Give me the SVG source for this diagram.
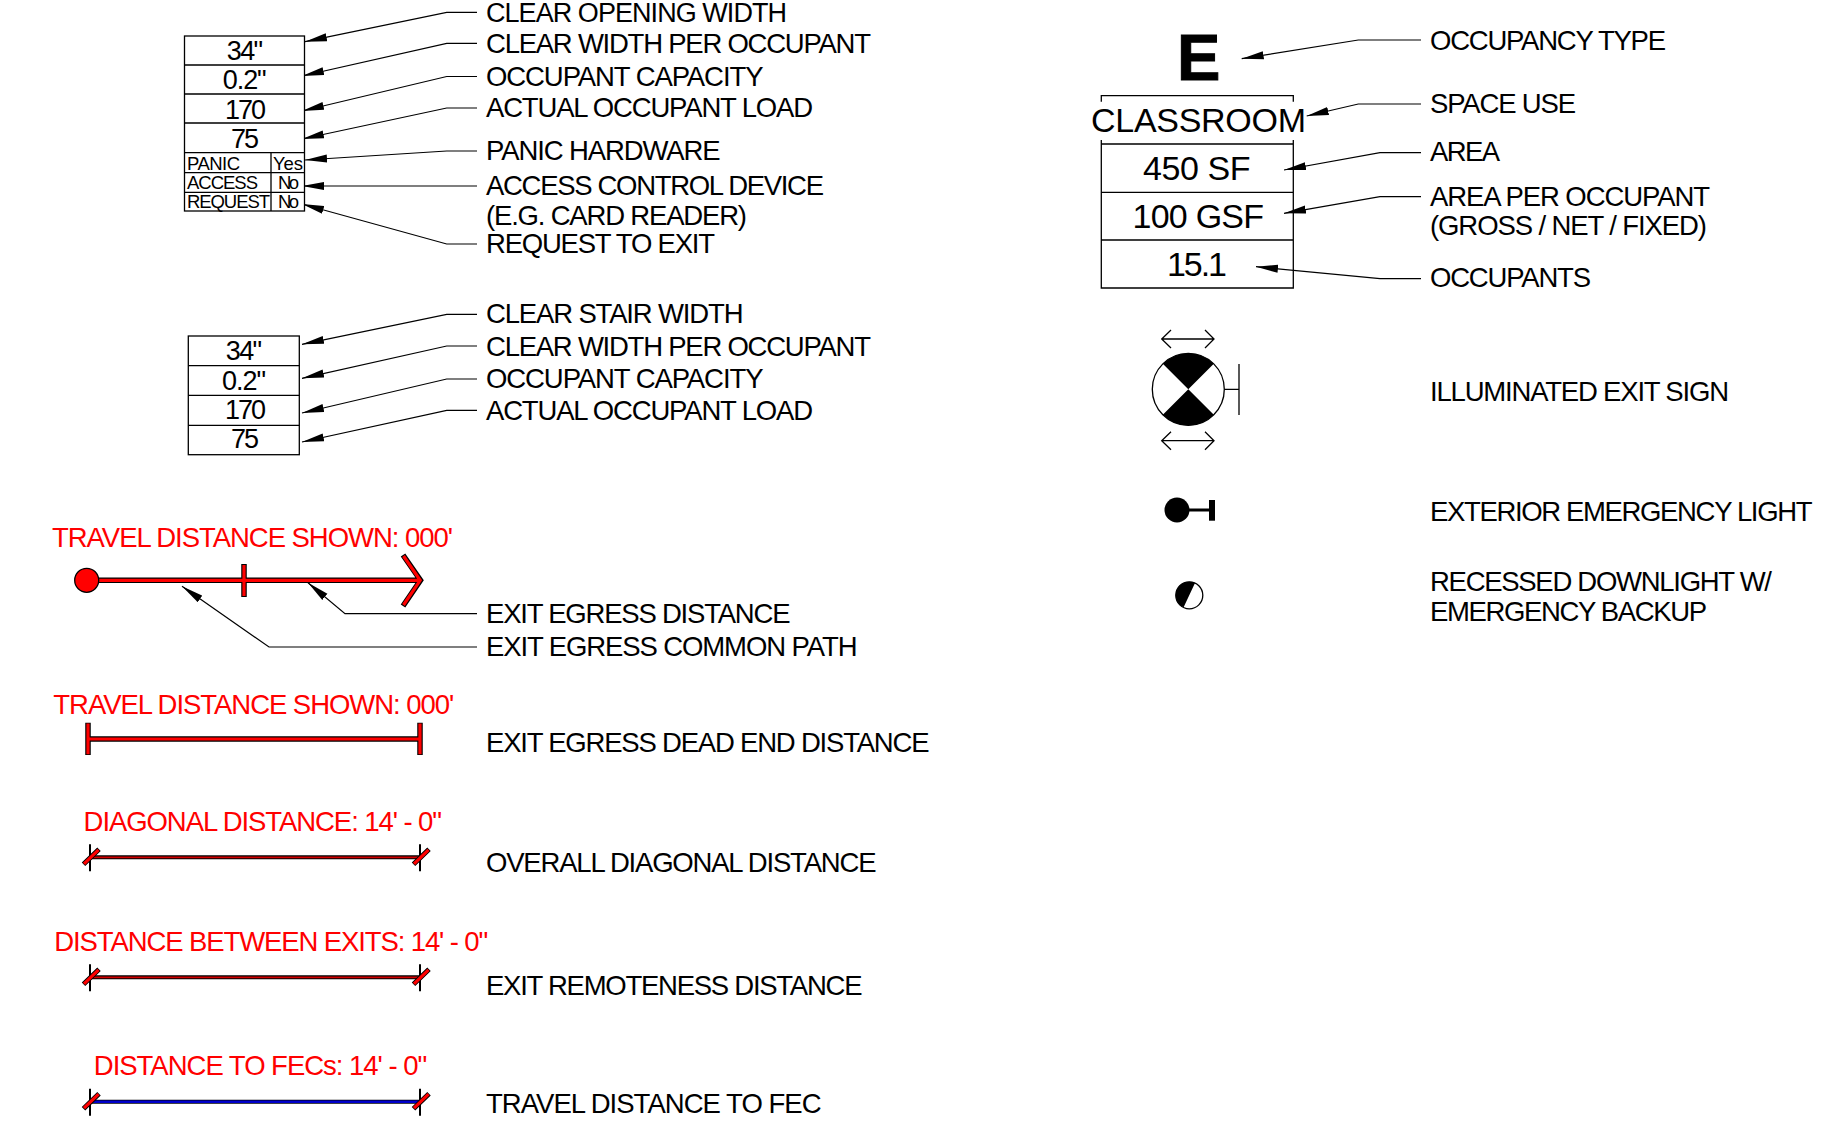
<svg xmlns="http://www.w3.org/2000/svg" width="1830" height="1134" viewBox="0 0 1830 1134">
<style>
text{font-family:"Liberation Sans",Arial,sans-serif;fill:#000}
.l{font-size:27.5px}
.r{font-size:27.5px;fill:#f00}
.v{font-size:27px}
.s{font-size:18.5px}
.b{font-size:34px}
.box{fill:#fff;stroke:#000;stroke-width:1.3}
.ln{fill:none;stroke:#000;stroke-width:1.3}
.ld{fill:none;stroke:#000;stroke-width:1.2;marker-end:url(#ah)}
.ok{fill:none;stroke:#000;stroke-width:5.5}
.rd{fill:none;stroke:#f00;stroke-width:3.2}
.bl{fill:none;stroke:#00c;stroke-width:2.4}
.thin{fill:none;stroke:#000;stroke-width:4}
.thr{fill:none;stroke:#d00000;stroke-width:1.8}
</style>
<defs>
<marker id="ah" markerUnits="userSpaceOnUse" markerWidth="24" markerHeight="10" refX="22" refY="5" orient="auto"><path d="M0 1L22 5L0 9Z" fill="#000"/></marker>
<g id="dim"><path class="ln" d="M0 -13V14M330 -13V14" style="stroke-width:2"/><path class="ok" d="M-6.5 7L9 -8M323.5 7L339 -8" style="stroke-width:5"/><path class="rd" d="M-6 6.5L8.5 -7.5M324 6.5L338.5 -7.5"/></g>
</defs>

<g id="connectors">
<path class="ld" d="M477 12.3H446.7L305 41.7"/>
<path class="ld" d="M477 43.3H446.7L302 76"/>
<path class="ld" d="M477 76.5H446.7L302 111"/>
<path class="ld" d="M477 108H446.7L302 139"/>
<path class="ld" d="M477 151H446.7L305 160"/>
<path class="ld" d="M477 186H302"/>
<path class="ld" d="M477 244H446.7L302 204"/>
<path class="ld" d="M477 314.3H446.7L302 344.3"/>
<path class="ld" d="M477 346H446.7L302 378.3"/>
<path class="ld" d="M477 379H446.7L302 413"/>
<path class="ld" d="M477 410.3H446.7L302 442"/>
<path class="ld" d="M477 613.7H345L308 582.7"/>
<path class="ld" d="M477 647H269L182 586.3"/>
<path class="ld" d="M1421 40H1358.3L1241.7 58.7"/>
<path class="ld" d="M1421 104H1358.3L1306.7 116"/>
<path class="ld" d="M1421 152.7H1380L1284 170"/>
<path class="ld" d="M1421 196.7H1380L1284 213.3"/>
<path class="ld" d="M1421 278.7H1380L1256 266.7"/>
</g>

<g id="door-tag">
<rect class="box" x="184.5" y="36" width="120" height="175"/>
<path class="ln" d="M184.5 65H304.5M184.5 94H304.5M184.5 123H304.5M184.5 152.7H304.5M184.5 172.7H304.5M184.5 192.3H304.5M271 152.7V211"/>
<text class="v" x="226.7" y="60" textLength="36.5">34"</text>
<text class="v" x="222.7" y="88.5" textLength="44">0.2"</text>
<text class="v" x="225" y="118.5" textLength="41">170</text>
<text class="v" x="231" y="147.5" textLength="28">75</text>
<text class="s" x="187" y="170" textLength="53">PANIC</text>
<text class="s" x="273" y="170" textLength="30">Yes</text>
<text class="s" x="187" y="189" textLength="71">ACCESS</text>
<text class="s" x="278" y="189" textLength="21">No</text>
<text class="s" x="187" y="208" textLength="83">REQUEST</text>
<text class="s" x="278" y="208" textLength="21">No</text>
</g>

<g id="stair-tag">
<rect class="box" x="188.3" y="336" width="111" height="118.7"/>
<path class="ln" d="M188.3 365.7H299.3M188.3 395.3H299.3M188.3 425.3H299.3"/>
<text class="v" x="225.7" y="360" textLength="36.5">34"</text>
<text class="v" x="222" y="390" textLength="44">0.2"</text>
<text class="v" x="225" y="419.3" textLength="41">170</text>
<text class="v" x="231" y="448.3" textLength="28">75</text>
</g>

<g id="labels-left">
<text class="l" x="486" y="21.5" textLength="301" style="font-size:27px">CLEAR OPENING WIDTH</text>
<text class="l" x="486" y="53" textLength="385">CLEAR WIDTH PER OCCUPANT</text>
<text class="l" x="486" y="85.5" textLength="277.5">OCCUPANT CAPACITY</text>
<text class="l" x="486" y="117" textLength="327">ACTUAL OCCUPANT LOAD</text>
<text class="l" x="486" y="160" textLength="234.5">PANIC HARDWARE</text>
<text class="l" x="486" y="195" textLength="338">ACCESS CONTROL DEVICE</text>
<text class="l" x="486" y="224.5" textLength="261">(E.G. CARD READER)</text>
<text class="l" x="486" y="253" textLength="229">REQUEST TO EXIT</text>
<text class="l" x="486" y="323" textLength="257.5">CLEAR STAIR WIDTH</text>
<text class="l" x="486" y="355.6" textLength="385">CLEAR WIDTH PER OCCUPANT</text>
<text class="l" x="486" y="387.5" textLength="277.5">OCCUPANT CAPACITY</text>
<text class="l" x="486" y="420" textLength="327">ACTUAL OCCUPANT LOAD</text>
<text class="l" x="486" y="622.5" textLength="304.5">EXIT EGRESS DISTANCE</text>
<text class="l" x="486" y="656" textLength="371.5">EXIT EGRESS COMMON PATH</text>
<text class="l" x="486" y="751.5" textLength="443.5">EXIT EGRESS DEAD END DISTANCE</text>
<text class="l" x="486" y="872" textLength="390.5">OVERALL DIAGONAL DISTANCE</text>
<text class="l" x="486" y="994.5" textLength="376.5">EXIT REMOTENESS DISTANCE</text>
<text class="l" x="486" y="1112.5" textLength="335.5">TRAVEL DISTANCE TO FEC</text>
</g>

<g id="exit-egress">
<text class="r" x="52" y="547" textLength="401">TRAVEL DISTANCE SHOWN: 000'</text>
<path class="ok" d="M86.7 580.3H420M244 564V597M403 555L420.5 580.3L403 606"/>
<path class="rd" d="M86.7 580.3H420M244 565V596M403.5 556L420.2 580.3L403.5 605"/>
<circle cx="86.7" cy="580.3" r="12" fill="#f00" stroke="#000" stroke-width="1.3"/>
</g>

<g id="dead-end">
<text class="r" x="53.3" y="713.5" textLength="401">TRAVEL DISTANCE SHOWN: 000'</text>
<path class="ok" d="M88 739H420M88 722.7V755M420 722.7V755"/>
<path class="rd" d="M88 739H420M88 723.5V754.2M420 723.5V754.2"/>
</g>

<g id="diagonal">
<text class="r" x="83.6" y="831" textLength="358.5">DIAGONAL DISTANCE: 14' - 0"</text>
<g transform="translate(90 857.3)"><path class="thin" d="M0 0H330"/><path class="thr" d="M0 0H330"/><use href="#dim"/></g>
</g>

<g id="remoteness">
<text class="r" x="54.3" y="951" textLength="434">DISTANCE BETWEEN EXITS: 14' - 0"</text>
<g transform="translate(90 977.3)"><path class="thin" d="M0 0H330"/><path class="thr" d="M0 0H330"/><use href="#dim"/></g>
</g>

<g id="fec">
<text class="r" x="93.8" y="1075" textLength="333.5">DISTANCE TO FECs: 14' - 0"</text>
<g transform="translate(90 1101.7)"><path class="thin" d="M0 0H330"/><path class="bl" d="M0 0H330"/><use href="#dim"/></g>
</g>

<g id="occupancy-tag">
<text x="1177" y="80" font-size="65" font-weight="bold" stroke="#000" stroke-width="1" textLength="44">E</text>
<path class="ln" d="M1101.3 101.7V95.7H1293.3V101.7"/>
<path class="ln" d="M1101.3 140V288H1293.3V140M1101.3 144H1293.3M1101.3 192.3H1293.3M1101.3 240H1293.3"/>
<text class="b" x="1091" y="131.7" textLength="215">CLASSROOM</text>
<text class="b" x="1143" y="179.5" textLength="107.5">450 SF</text>
<text class="b" x="1132.5" y="228" textLength="131.5">100 GSF</text>
<text class="b" x="1167" y="275.5" textLength="60">15.1</text>
</g>

<g id="labels-right">
<text class="l" x="1430" y="49.5" textLength="236">OCCUPANCY TYPE</text>
<text class="l" x="1430" y="113" textLength="146">SPACE USE</text>
<text class="l" x="1430" y="161" textLength="70">AREA</text>
<text class="l" x="1430" y="205.5" textLength="280">AREA PER OCCUPANT</text>
<text class="l" x="1430" y="234.5" textLength="277">(GROSS / NET / FIXED)</text>
<text class="l" x="1430" y="287" textLength="161">OCCUPANTS</text>
<text class="l" x="1430" y="400.5" textLength="299">ILLUMINATED EXIT SIGN</text>
<text class="l" x="1430" y="520.5" textLength="382.5">EXTERIOR EMERGENCY LIGHT</text>
<text class="l" x="1430" y="590.5" textLength="342">RECESSED DOWNLIGHT W/</text>
<text class="l" x="1430" y="621" textLength="277">EMERGENCY BACKUP</text>
</g>

<g id="exit-sign">
<path class="ln" d="M1161.7 339H1214M1171 330L1161.7 339L1171 348M1205 330L1214 339L1205 348M1161.7 440.7H1214M1171 431.7L1161.7 440.7L1171 449.7M1205 431.7L1214 440.7L1205 449.7"/>
<circle cx="1188.3" cy="389.3" r="36" fill="#fff" stroke="#000" stroke-width="1.3"/>
<path d="M1188.3 389.3L1162.8 363.8A36 36 0 0 1 1213.8 363.8ZM1188.3 389.3L1213.8 414.8A36 36 0 0 1 1162.8 414.8Z" fill="#000"/>
<path class="ln" d="M1224.3 389.3H1239M1239 364V415"/>
</g>

<g id="emergency-light">
<circle cx="1177" cy="510" r="12.5" fill="#000"/>
<path d="M1189 510H1210" fill="none" stroke="#000" stroke-width="3"/>
<rect x="1209" y="500" width="6" height="20.7" fill="#000"/>
</g>

<g id="downlight">
<circle cx="1189.3" cy="595.3" r="13.5" fill="#fff" stroke="#000" stroke-width="1.3"/>
<path d="M1195 583L1183.5 607.5A13.5 13.5 0 0 1 1195 583Z" fill="#000"/>
</g>
</svg>
